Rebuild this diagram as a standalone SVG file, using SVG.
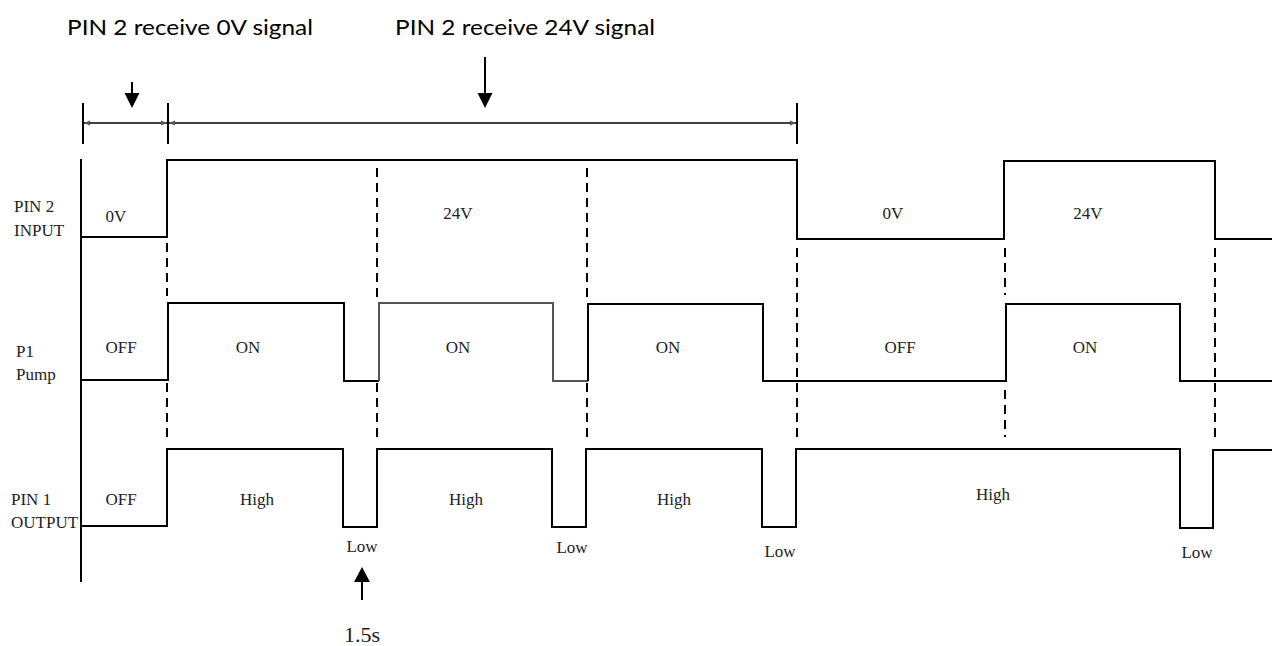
<svg xmlns="http://www.w3.org/2000/svg" width="1276" height="646" viewBox="0 0 1276 646">
<style>
.w{fill:none;stroke:#000;stroke-width:2;stroke-linejoin:miter}
.g{fill:none;stroke:#555;stroke-width:2}
.d{fill:none;stroke:#000;stroke-width:2;stroke-dasharray:9 6}
.t{font-family:"Liberation Serif",serif;font-size:17px;fill:#222}
.c{text-anchor:middle}
.h{font-family:Lato,"Liberation Sans",sans-serif;font-size:22px;fill:#000}
.thin{fill:none;stroke:#000;stroke-width:1.5}
.ax{fill:none;stroke:#000;stroke-width:2}
</style>
<defs>
<marker id="sa" viewBox="0 0 10 10" refX="10" refY="5" markerWidth="10" markerHeight="6" orient="auto-start-reverse" markerUnits="userSpaceOnUse"><path d="M0,1 L10,5 L0,9 Z" fill="#555"/></marker>
</defs>
<rect width="1276" height="646" fill="#fff"/>
<g id="labels-top">
<text class="h" x="67" y="35" textLength="246" lengthAdjust="spacingAndGlyphs">PIN 2 receive 0V signal</text>
<text class="h" x="395" y="35" textLength="260" lengthAdjust="spacingAndGlyphs">PIN 2 receive 24V signal</text>
</g>
<g id="connectors">
<line class="ax" x1="132" y1="82" x2="132" y2="95"/>
<path d="M124.5,93 L139.5,93 L132,108 Z" fill="#000"/>
<line class="ax" x1="485" y1="57" x2="485" y2="95"/>
<path d="M477.5,93 L492.5,93 L485,108 Z" fill="#000"/>
<line class="ax" x1="83" y1="103" x2="83" y2="144"/>
<line class="ax" x1="168" y1="103" x2="168" y2="144"/>
<line class="ax" x1="797" y1="103" x2="797" y2="144"/>
<line class="thin" x1="84" y1="123" x2="167" y2="123" marker-start="url(#sa)" marker-end="url(#sa)"/>
<line class="thin" x1="169" y1="123" x2="796" y2="123" marker-start="url(#sa)" marker-end="url(#sa)"/>
<line class="ax" x1="362" y1="580" x2="362" y2="600"/>
<path d="M354,582 L370,582 L362,567 Z" fill="#000"/>
</g>
<g id="axis">
<line class="ax" x1="81" y1="159" x2="81" y2="582"/>
</g>
<g id="pin2-input">
<path class="w" d="M81,237 H167 V160 H797 V239 H1004 V161 H1215 V239 H1272"/>
<text class="t" x="14" y="212">PIN 2</text>
<text class="t" x="14" y="236">INPUT</text>
<text class="t c" x="116" y="222">0V</text>
<text class="t c" x="458" y="219">24V</text>
<text class="t c" x="893" y="219">0V</text>
<text class="t c" x="1088" y="219">24V</text>
</g>
<g id="p1-pump">
<path class="w" d="M81,380 H168 V303 H344 V381 H379"/>
<path class="g" d="M379,381 V303 H553 V381 H588"/>
<path class="w" d="M588,381 V304 H763 V381 H1006 V304 H1180 V381 H1272"/>
<text class="t" x="16" y="357">P1</text>
<text class="t" x="16" y="380">Pump</text>
<text class="t c" x="121" y="353">OFF</text>
<text class="t c" x="248" y="353">ON</text>
<text class="t c" x="458" y="353">ON</text>
<text class="t c" x="668" y="353">ON</text>
<text class="t c" x="900" y="353">OFF</text>
<text class="t c" x="1085" y="353">ON</text>
</g>
<g id="pin1-output">
<path class="w" d="M81,526 H167 V449 H343 V527 H377 V449 H552 V527 H586 V449 H762 V527 H796 V449 H1180 V528 H1213 V450 H1272"/>
<text class="t" x="11" y="505">PIN 1</text>
<text class="t" x="11" y="528">OUTPUT</text>
<text class="t c" x="121" y="505">OFF</text>
<text class="t c" x="257" y="505">High</text>
<text class="t c" x="466" y="505">High</text>
<text class="t c" x="674" y="505">High</text>
<text class="t c" x="993" y="500">High</text>
<text class="t c" x="362" y="552">Low</text>
<text class="t c" x="572" y="553">Low</text>
<text class="t c" x="780" y="557">Low</text>
<text class="t c" x="1197" y="558">Low</text>
<text class="t c" x="362" y="642" style="font-size:22px">1.5s</text>
</g>
<g id="dashes">
<line class="d" x1="167" y1="243" x2="167" y2="296"/>
<line class="d" x1="167" y1="383" x2="167" y2="437"/>
<line class="d" x1="377" y1="168" x2="377" y2="298"/>
<line class="d" x1="377" y1="383" x2="377" y2="437"/>
<line class="d" x1="587" y1="168" x2="587" y2="297"/>
<line class="d" x1="587" y1="383" x2="587" y2="437"/>
<line class="d" x1="797" y1="248" x2="797" y2="378"/>
<line class="d" x1="797" y1="383" x2="797" y2="440"/>
<line class="d" x1="1005" y1="248" x2="1005" y2="295"/>
<line class="d" x1="1005" y1="390" x2="1005" y2="437"/>
<line class="d" x1="1215" y1="248" x2="1215" y2="442"/>
</g>
</svg>
